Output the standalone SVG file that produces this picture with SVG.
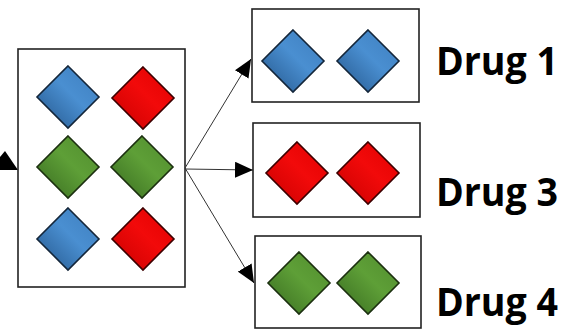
<svg xmlns="http://www.w3.org/2000/svg" width="568" height="331" viewBox="0 0 568 331">
  <defs>
    <linearGradient id="gBlue" x1="0" y1="1" x2="1" y2="0">
      <stop offset="0" stop-color="#23558a"/>
      <stop offset="0.55" stop-color="#4a8fd1"/>
      <stop offset="1" stop-color="#3d7dbd"/>
    </linearGradient>
    <linearGradient id="gRed" x1="0" y1="1" x2="1" y2="0">
      <stop offset="0" stop-color="#c80000"/>
      <stop offset="0.55" stop-color="#f20a0a"/>
      <stop offset="1" stop-color="#e00000"/>
    </linearGradient>
    <linearGradient id="gGreen" x1="0" y1="1" x2="1" y2="0">
      <stop offset="0" stop-color="#376a1f"/>
      <stop offset="0.55" stop-color="#5e9f37"/>
      <stop offset="1" stop-color="#508c2d"/>
    </linearGradient>
    <path id="dia" d="M0,-31 L31,0 L0,31 L-31,0 Z"/>
    <marker id="arrow" viewBox="0 0 18 16" refX="18" refY="8" markerWidth="18" markerHeight="16" markerUnits="userSpaceOnUse" orient="auto">
      <path d="M0,0 L18,8 L0,16 Z" fill="#000"/>
    </marker>
  </defs>
  <style>
    .box { fill: #ffffff; stroke: #222222; stroke-width: 1.6; }
    .blue { fill: url(#gBlue); stroke: #14263a; stroke-width: 1.6; }
    .red { fill: url(#gRed); stroke: #3d0000; stroke-width: 1.6; }
    .green { fill: url(#gGreen); stroke: #1c3010; stroke-width: 1.6; }
    .link { fill: none; stroke: #333333; stroke-width: 1; }
    .label { font-family: "Open Sans", "Liberation Sans", sans-serif; font-weight: 700; font-size: 40px; fill: #000000; }
  </style>

  <rect width="568" height="331" fill="#ffffff"/>

  <!-- incoming arrowhead at the left edge -->
  <g id="incoming">
    <polygon points="0,157 5,151 18,170 0,170" fill="#000"/>
  </g>

  <!-- mixed sample -->
  <g id="mixture">
    <rect class="box" x="18" y="49" width="167" height="238"/>
    <use href="#dia" class="blue" x="68" y="97"/>
    <use href="#dia" class="red" x="143" y="98"/>
    <use href="#dia" class="green" x="68" y="167"/>
    <use href="#dia" class="green" x="142" y="167"/>
    <use href="#dia" class="blue" x="68" y="239"/>
    <use href="#dia" class="red" x="143" y="239"/>
  </g>

  <!-- connectors fanning out from the mixture -->
  <g id="connectors">
    <line class="link" x1="185" y1="168" x2="251" y2="59" marker-end="url(#arrow)"/>
    <line class="link" x1="185" y1="169" x2="253" y2="170" marker-end="url(#arrow)"/>
    <line class="link" x1="185" y1="168" x2="254" y2="283" marker-end="url(#arrow)"/>
  </g>

  <!-- separated groups -->
  <g id="drug1">
    <rect class="box" x="252" y="9" width="167" height="93"/>
    <use href="#dia" class="blue" x="293" y="61"/>
    <use href="#dia" class="blue" x="368" y="61"/>
    <text class="label" x="436" y="75" textLength="122" lengthAdjust="spacingAndGlyphs">Drug 1</text>
  </g>

  <g id="drug3">
    <rect class="box" x="253" y="123" width="167" height="94"/>
    <use href="#dia" class="red" x="297" y="173"/>
    <use href="#dia" class="red" x="368" y="173"/>
    <text class="label" x="436" y="206" textLength="122" lengthAdjust="spacingAndGlyphs">Drug 3</text>
  </g>

  <g id="drug4">
    <rect class="box" x="255" y="236" width="166" height="92"/>
    <use href="#dia" class="green" x="299" y="283"/>
    <use href="#dia" class="green" x="368" y="283"/>
    <text class="label" x="436" y="316" textLength="122" lengthAdjust="spacingAndGlyphs">Drug 4</text>
  </g>
</svg>
